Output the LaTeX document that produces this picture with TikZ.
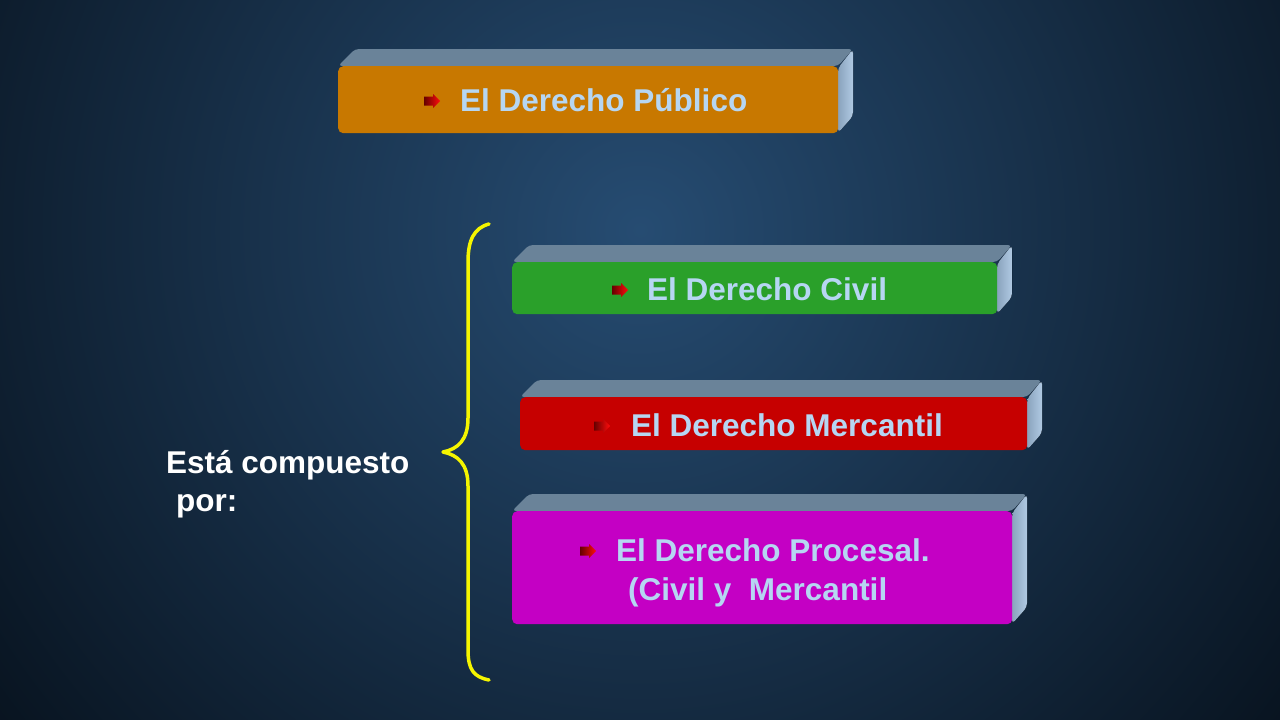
\documentclass[tikz,border=0pt]{standalone}
\usepackage{fontspec}
\setmainfont{Liberation Sans}
\definecolor{bgin}{HTML}{264C72}
\definecolor{bgout}{HTML}{07111C}
\definecolor{topf}{HTML}{6A8399}
\definecolor{sidef}{HTML}{A2C0DE}
\definecolor{txtblue}{HTML}{B6D6F2}
\definecolor{cOrange}{HTML}{C87800}
\definecolor{cGreen}{HTML}{2AA02A}
\definecolor{cRed}{HTML}{C60000}
\definecolor{cMagenta}{HTML}{C400C4}
\definecolor{brace}{HTML}{F5F500}
\tikzset{
  frontface/.style={rectangle, rounded corners=5pt, inner sep=0pt, anchor=north west},
  topface/.style={fill=topf, rounded corners=4pt},
  sideface/.style={left color=sidef!85!black, right color=sidef!85!white, rounded corners=4pt},
  boxtext/.style={text=txtblue, font=\fontsize{31.5}{40}\selectfont\bfseries, inner sep=0pt, anchor=base west},
  plaintext/.style={text=white, font=\fontsize{31.5}{40}\selectfont\bfseries, inner sep=0pt, anchor=base west},
  bracestyle/.style={draw=brace, line width=3.5pt, line cap=round, line join=round},
}
% slab: name, x1, y1, x2, y2, colour
\newcommand\slab[6]{%
  \fill[topface] (#2,#3) -- ({#2+17},{#3-17}) -- ({#4+15},{#3-17}) -- (#4,#3) -- cycle;
  \fill[sideface] (#4,{#3+2}) -- ({#4+15},{#3-17}) -- ({#4+15},{#5-17}) -- (#4,#5) -- cycle;
  \node[frontface, fill=#6, minimum width={(#4-#2)*1pt}, minimum height={(#5-#3)*1pt}] (#1) at (#2,#3) {};
}
% bullet arrow: name, x, y (centre line)
\newcommand\bulletarrow[3]{%
  \coordinate (#1) at (#2,#3);
  \shade[left color=black!60!red, right color=red!95!white]
    ([shift={(0,-4.5)}]#1) -- ++(9,0) -- ++(0,-2.5) -- ++(7,7) -- ++(-7,7) -- ++(0,-2.5) -- ++(-9,0) -- cycle;
}
\begin{document}
\begin{tikzpicture}[x=1pt,y=-1pt]
\useasboundingbox (0,0) rectangle (1280,720);
\begin{scope}
  \clip (0,0) rectangle (1280,720);
  \shade[inner color=bgin, outer color=bgout] (640,230) circle (850);
\end{scope}

\slab{pub}{338}{66}{838}{133}{cOrange}
\slab{civ}{512}{262}{997}{314}{cGreen}
\slab{mer}{520}{397}{1027}{450}{cRed}
\slab{pro}{512}{511}{1012}{624}{cMagenta}

\bulletarrow{bpub}{424}{101}
\node[boxtext] (tpub) at (460,111) {El Derecho Público};
\bulletarrow{bciv}{612}{290}
\node[boxtext] (tciv) at (647,300) {El Derecho Civil};
\bulletarrow{bmer}{594}{426}
\node[boxtext] (tmer) at (631,436) {El Derecho Mercantil};
\bulletarrow{bpro}{580}{551}
\node[boxtext] (tpro1) at (616,561) {El Derecho Procesal.};
\node[boxtext] (tpro2) at (628,600) {(Civil y\ \ Mercantil};

\node[plaintext] (comp1) at (166,473) {Está compuesto};
\node[plaintext] (comp2) at (176,511) {por:};

\coordinate (btop) at (489,224);
\coordinate (btip) at (443,452);
\coordinate (bbot) at (489,680);
\draw[bracestyle] (btop) .. controls (474,228) and (468,240) .. (468,262)
  -- (468,418) .. controls (468,440) and (458,449) .. (btip)
  .. controls (458,455) and (468,464) .. (468,486)
  -- (468,650) .. controls (468,670) and (474,677) .. (bbot);
\end{tikzpicture}
\end{document}
